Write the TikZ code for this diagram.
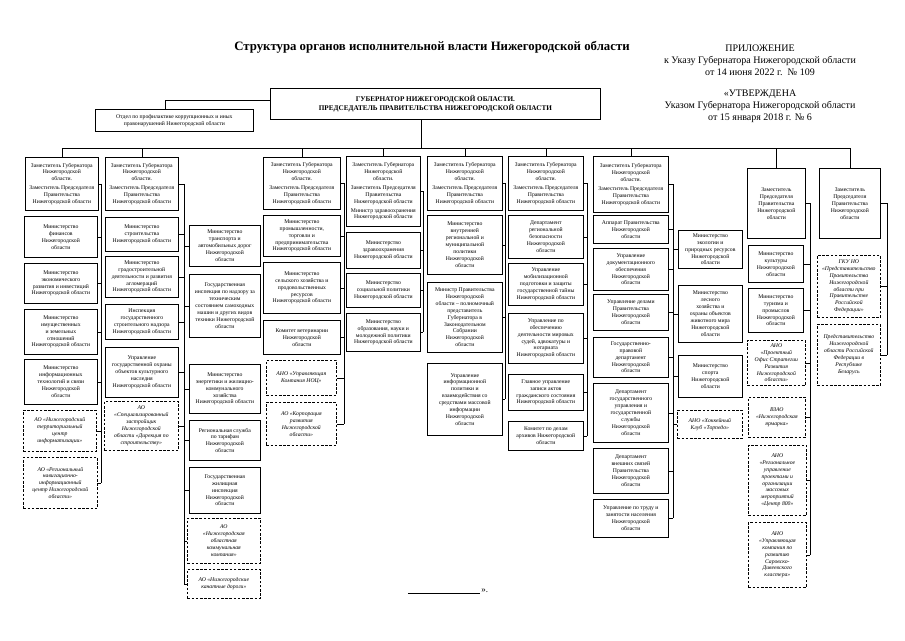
\documentclass[tikz,border=0pt]{standalone}
\usepackage{fontspec}
\setmainfont{Liberation Serif}
\newcommand{\boxfont}{\fontsize{5.7}{6.9}\selectfont}
\newcommand{\orgbox}[7][box]{\node[#1,anchor=north west,minimum width={(#5)-(#3)},minimum height={(#6)-(#4)}] (#2) at (#3,#4) {#7};}
\tikzset{
  box/.style={draw,line width=0.7pt,align=center,inner sep=0.8pt,font=\boxfont},
  dbox/.style={box,dash pattern=on 2.6pt off 1.6pt,font=\boxfont\itshape},
  govbox/.style={box,font=\fontsize{7.2}{8.8}\selectfont\bfseries},
  conn/.style={line width=0.7pt},
  head/.style={align=center,font=\fontsize{10}{12}\selectfont}
}
\begin{document}
\begin{tikzpicture}[x=1pt,y=-1pt]
\useasboundingbox[fill=white] (0,0) rectangle (905,640);

% headers
\node[font=\fontsize{12.8}{14}\selectfont\bfseries] (title) at (432,47) {Структура органов исполнительной власти Нижегородской области};
\node[head] (appx) at (760,60) {ПРИЛОЖЕНИЕ\\к Указу Губернатора Нижегородской области\\от 14 июня 2022 г.~~№ 109};
\node[head] (utv) at (760,106) {«УТВЕРЖДЕНА\\Указом Губернатора Нижегородской области\\от 15 января 2018 г. № 6};
\node[font=\fontsize{9}{11}\selectfont] (endmark) at (448,591) {\rule[-1.5pt]{72pt}{0.6pt}\,».};

% top
\orgbox[govbox]{gov}{270}{88}{600}{119}{ГУБЕРНАТОР НИЖЕГОРОДСКОЙ ОБЛАСТИ.\\ПРЕДСЕДАТЕЛЬ ПРАВИТЕЛЬСТВА НИЖЕГОРОДСКОЙ ОБЛАСТИ}
\orgbox{dept}{95}{109}{253}{131}{Отдел по профилактике коррупционных и иных\\правонарушений Нижегородской области}

% deputies
\orgbox{d1}{25}{157}{98}{210}{Заместитель Губернатора\\Нижегородской\\области.\\[2pt]Заместитель Председателя\\Правительства\\Нижегородской области}
\orgbox{d2}{105}{157}{178}{210}{Заместитель Губернатора\\Нижегородской\\области.\\[2pt]Заместитель Председателя\\Правительства\\Нижегородской области}
\orgbox{d3}{263}{157}{340}{209}{Заместитель Губернатора\\Нижегородской\\области.\\[2pt]Заместитель Председателя\\Правительства\\Нижегородской области}
\orgbox{d4}{346}{156}{420}{226}{Заместитель Губернатора\\Нижегородской\\области.\\[2pt]Заместитель Председателя\\Правительства\\Нижегородской области\\[2pt]Министр здравоохранения\\Нижегородской области}
\orgbox{d5}{427}{156}{502}{210}{Заместитель Губернатора\\Нижегородской\\области.\\[2pt]Заместитель Председателя\\Правительства\\Нижегородской области}
\orgbox{d6}{508}{156}{583}{210}{Заместитель Губернатора\\Нижегородской\\области.\\[2pt]Заместитель Председателя\\Правительства\\Нижегородской области}
\orgbox{d7}{593}{156}{668}{212}{Заместитель Губернатора\\Нижегородской\\области.\\[2pt]Заместитель Председателя\\Правительства\\Нижегородской области}
\orgbox{d8}{747}{168}{805}{238}{Заместитель\\Председателя\\Правительства\\Нижегородской\\области}
\orgbox{d9}{819}{168}{880}{238}{Заместитель\\Председателя\\Правительства\\Нижегородской\\области}

% column 1
\orgbox{fin}{24}{216}{97}{257}{Министерство\\финансов\\Нижегородской\\области}
\orgbox{econ}{24}{263}{97}{303}{Министерство\\экономического\\развития и инвестиций\\Нижегородской области}
\orgbox{imush}{24}{309}{97}{354}{Министерство\\имущественных\\и земельных\\отношений\\Нижегородской области}
\orgbox{inf}{24}{359}{97}{404}{Министерство\\информационных\\технологий и связи\\Нижегородской\\области}
\orgbox[dbox]{ntci}{23}{410}{96}{451}{АО «Нижегородский\\территориальный\\центр\\информатизации»}
\orgbox[dbox]{rnic}{23}{457}{97}{508}{АО «Региональный\\навигационно-\\информационный\\центр Нижегородской\\области»}

% column 2
\orgbox{stroi}{105}{217}{178}{251}{Министерство\\строительства\\Нижегородской области}
\orgbox{grad}{105}{256}{178}{297}{Министерство\\градостроительной\\деятельности и развития\\агломераций\\Нижегородской области}
\orgbox{gsn}{105}{304}{178}{339}{Инспекция\\государственного\\строительного надзора\\Нижегородской области}
\orgbox{okn}{105}{347}{178}{397}{Управление\\государственной охраны\\объектов культурного\\наследия\\Нижегородской области}
\orgbox[dbox]{spec}{104}{401}{178}{450}{АО\\«Специализированный\\застройщик\\Нижегородской\\области «Дирекция по\\строительству»}

% column 3
\orgbox{trans}{189}{225}{260}{266}{Министерство\\транспорта и\\автомобильных дорог\\Нижегородской\\области}
\orgbox{gtn}{189}{274}{260}{337}{Государственная\\инспекция по надзору за\\техническим\\состоянием самоходных\\машин и других видов\\техники Нижегородской\\области}
\orgbox{energ}{189}{364}{260}{413}{Министерство\\энергетики и жилищно-\\коммунального\\хозяйства\\Нижегородской области}
\orgbox{tarif}{189}{420}{260}{460}{Региональная служба\\по тарифам\\Нижегородской\\области}
\orgbox{zhil}{189}{467}{260}{513}{Государственная\\жилищная\\инспекция\\Нижегородской\\области}
\orgbox[dbox]{nokk}{187}{518}{260}{563}{АО\\«Нижегородская\\областная\\коммунальная\\компания»}
\orgbox[dbox]{kanat}{187}{569}{260}{598}{АО «Нижегородские\\канатные дороги»}

% column 4
\orgbox{prom}{263}{215}{340}{256}{Министерство\\промышленности,\\торговли и\\предпринимательства\\Нижегородской области}
\orgbox{selhoz}{263}{262}{340}{313}{Министерство\\сельского хозяйства и\\продовольственных\\ресурсов\\Нижегородской области}
\orgbox{vet}{263}{320}{340}{354}{Комитет ветеринарии\\Нижегородской\\области}
\orgbox[dbox]{noc}{266}{360}{336}{395}{АНО «Управляющая\\Компания НОЦ»}
\orgbox[dbox]{korp}{266}{402}{336}{445}{АО «Корпорация\\развития\\Нижегородской\\области»}

% column 5
\orgbox{zdrav}{346}{232}{420}{268}{Министерство\\здравоохранения\\Нижегородской области}
\orgbox{soc}{346}{273}{420}{307}{Министерство\\социальной политики\\Нижегородской области}
\orgbox{obraz}{346}{313}{420}{351}{Министерство\\образования, науки и\\молодежной политики\\Нижегородской области}

% column 6
\orgbox{vnutr}{427}{215}{502}{274}{Министерство\\внутренней\\региональной и\\муниципальной\\политики\\Нижегородской\\области}
\orgbox{minpr}{427}{282}{502}{352}{Министр Правительства\\Нижегородской\\области – полномочный\\представитель\\Губернатора в\\Законодательном\\Собрании\\Нижегородской\\области}
\orgbox{uip}{427}{363}{502}{435}{Управление\\информационной\\политики и\\взаимодействия со\\средствами массовой\\информации\\Нижегородской\\области}

% column 7
\orgbox{drb}{508}{215}{583}{258}{Департамент\\региональной\\безопасности\\Нижегородской\\области}
\orgbox{mob}{508}{263}{583}{305}{Управление\\мобилизационной\\подготовки и защиты\\государственной тайны\\Нижегородской области}
\orgbox{mir}{508}{313}{583}{363}{Управление по\\обеспечению\\деятельности мировых\\судей, адвокатуры и\\нотариата\\Нижегородской области}
\orgbox{zags}{508}{374}{583}{410}{Главное управление\\записи актов\\гражданского состояния\\Нижегородской области}
\orgbox{arh}{508}{421}{583}{450}{Комитет по делам\\архивов Нижегородской\\области}

% column 8
\orgbox{app}{593}{215}{668}{243}{Аппарат Правительства\\Нижегородской\\области}
\orgbox{udo}{593}{248}{668}{290}{Управление\\документационного\\обеспечения\\Нижегородской\\области}
\orgbox{udel}{593}{294}{668}{330}{Управление делами\\Правительства\\Нижегородской\\области}
\orgbox{gpd}{593}{337}{668}{377}{Государственно-\\правовой\\департамент\\Нижегородской\\области}
\orgbox{dgu}{593}{383}{668}{442}{Департамент\\государственного\\управления и\\государственной\\службы\\Нижегородской\\области}
\orgbox{dvs}{593}{448}{668}{493}{Департамент\\внешних связей\\Правительства\\Нижегородской\\области}
\orgbox{trud}{593}{499}{668}{537}{Управление по труду и\\занятости населения\\Нижегородской\\области}

% column 8a
\orgbox{ecol}{678}{230}{742}{268}{Министерство\\экологии и\\природных ресурсов\\Нижегородской\\области}
\orgbox{les}{678}{285}{742}{342}{Министерство\\лесного\\хозяйства и\\охраны объектов\\животного мира\\Нижегородской\\области}
\orgbox{sport}{678}{355}{742}{397}{Министерство\\спорта\\Нижегородской\\области}
\orgbox[dbox]{hk}{677}{410}{742}{438}{АНО «Хоккейный\\Клуб «Торпедо»}

% column 9
\orgbox{kult}{748}{245}{803}{282}{Министерство\\культуры\\Нижегородской\\области}
\orgbox{tur}{748}{288}{803}{332}{Министерство\\туризма и\\промыслов\\Нижегородской\\области}
\orgbox[dbox]{pos}{747}{340}{805}{385}{АНО\\«Проектный\\Офис Стратегии\\Развития\\Нижегородской\\области»}
\orgbox[dbox]{vzao}{748}{397}{805}{437}{ВЗАО\\«Нижегородская\\ярмарка»}
\orgbox[dbox]{c800}{748}{445}{806}{515}{АНО\\«Региональное\\управление\\проектами и\\организации\\массовых\\мероприятий\\«Центр 800»}
\orgbox[dbox]{sdk}{748}{522}{806}{587}{АНО\\«Управляющая\\компания по\\развитию\\Саровско-\\Дивеевского\\кластера»}

% column 10
\orgbox[dbox]{gku}{817}{255}{880}{317}{ГКУ НО\\«Представительство\\Правительства\\Нижегородской\\области при\\Правительстве\\Российской\\Федерации»}
\orgbox[dbox]{belar}{817}{324}{880}{385}{Представительство\\Нижегородской\\области Российской\\Федерации в\\Республике\\Беларусь}

% connectors: governor
\coordinate (bus) at (421,148);
\draw[conn] ([yshift=-12pt]gov.north west) -| ([xshift=-9pt]dept.north);
\draw[conn] (gov.south -| bus) -- (bus);
\draw[conn] (d1.north |- bus) -- (d9.north |- bus);
\foreach \n in {d1,d2,d3,d4,d5,d6,d7,d8,d9} \draw[conn] (\n.north) -- (\n.north |- bus);

% trunk lines
\coordinate (L1) at (101,0);
\coordinate (L2) at (184,0);
\coordinate (L3) at (344,0);
\coordinate (L4) at (423,0);
\coordinate (L5) at (505,0);
\coordinate (L6) at (587,0);
\coordinate (L7) at (673,0);
\coordinate (L8) at (810,0);
\coordinate (L9) at (887,0);

\foreach \n in {d1,fin,econ,imush,inf,ntci,rnic} \draw[conn] (\n.east) -- (\n.east -| L1);
\draw[conn] (d1.east -| L1) -- (rnic.east -| L1);

\foreach \n in {d2,stroi,grad,gsn,okn,spec} \draw[conn] (\n.east) -- (\n.east -| L2);
\foreach \n in {trans,gtn,energ,tarif,zhil,nokk,kanat} \draw[conn] (\n.west) -- (\n.west -| L2);
\draw[conn] (d2.east -| L2) -- (kanat.west -| L2);

\foreach \n in {d3,prom,selhoz,vet,noc,korp} \draw[conn] (\n.east) -- (\n.east -| L3);
\draw[conn] (d3.east -| L3) -- (korp.east -| L3);

\foreach \n in {d4,zdrav,soc,obraz} \draw[conn] (\n.east) -- (\n.east -| L4);
\draw[conn] (d4.east -| L4) -- (obraz.east -| L4);

\foreach \n in {d5,vnutr,minpr,uip} \draw[conn] (\n.east) -- (\n.east -| L5);
\draw[conn] (d5.east -| L5) -- (uip.east -| L5);

\foreach \n in {d6,drb,mob,mir,zags,arh} \draw[conn] (\n.east) -- (\n.east -| L6);
\draw[conn] (d6.east -| L6) -- (arh.east -| L6);

\foreach \n in {d7,app,udo,udel,gpd,dgu,dvs,trud} \draw[conn] (\n.east) -- (\n.east -| L7);
\foreach \n in {ecol,les,sport,hk} \draw[conn] (\n.west) -- (\n.west -| L7);
\draw[conn] (d7.east -| L7) -- (trud.east -| L7);

\foreach \n in {d8,kult,tur,pos,vzao,c800,sdk} \draw[conn] (\n.east) -- (\n.east -| L8);
\draw[conn] (d8.east -| L8) -- (sdk.east -| L8);

\foreach \n in {d9,gku,belar} \draw[conn] (\n.east) -- (\n.east -| L9);
\draw[conn] (d9.east -| L9) -- (belar.east -| L9);
\end{tikzpicture}
\end{document}
